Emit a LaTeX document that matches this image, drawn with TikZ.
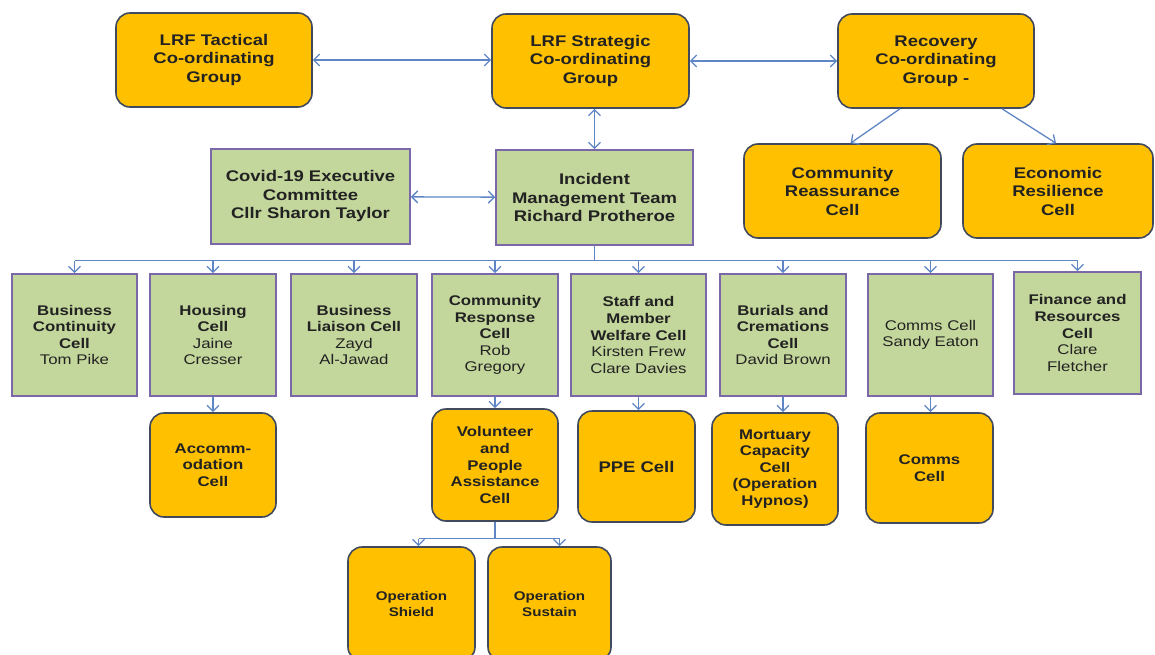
\documentclass[tikz,border=0pt]{standalone}
\usepackage{fontspec}
\setmainfont[FakeStretch=1.2]{Liberation Sans}
\usetikzlibrary{arrows.meta,calc}

\definecolor{gold}{HTML}{FFC000}
\definecolor{goldline}{HTML}{404A5C}
\definecolor{sage}{HTML}{C3D69B}
\definecolor{sageline}{HTML}{7B68A8}
\definecolor{linkblue}{HTML}{5E86C4}
\definecolor{ink}{HTML}{222222}

\begin{document}
\begin{tikzpicture}[x=1pt, y=-1pt,
  size/.style 2 args={minimum width=#1pt, minimum height=#2pt, inner sep=0pt},
  grp/.style={draw=goldline, fill=gold, line width=1.6pt, rounded corners=14pt,
    align=center, text=ink, font=\fontsize{15.4}{18.5}\selectfont\bfseries},
  subgrp/.style={grp, font=\fontsize{14}{16.6}\selectfont\bfseries},
  cell/.style={draw=sageline, fill=sage, line width=1.6pt, align=center,
    text=ink, font=\fontsize{14}{16.6}\selectfont},
  link/.style={draw=linkblue, line width=1.3pt},
  tip/.style={-{Straight Barb[length=6pt,width=12pt]}},
  both/.style={{Straight Barb[length=6pt,width=12pt]}-{Straight Barb[length=6pt,width=12pt]}}]
  \useasboundingbox (0,0) rectangle (1155,655);

  % top groups
  \node[grp, size={196}{94}] (tact) at (214,60) {LRF Tactical\\Co-ordinating\\Group};
  \node[grp, size={197}{94}] (strat) at (590.5,61) {LRF Strategic\\Co-ordinating\\Group};
  \node[grp, size={196}{94}] (recov) at (936,61) {Recovery\\Co-ordinating\\Group -};

  % second row
  \node[cell, size={199}{95}, font=\fontsize{15.4}{18.5}\selectfont\bfseries] (covid) at (310.5,196.5)
    {Covid-19 Executive\\Committee\\Cllr Sharon Taylor};
  \node[cell, size={197}{95}, font=\fontsize{15.4}{18.5}\selectfont\bfseries] (imt) at (594.5,197.5)
    {Incident\\Management Team\\Richard Protheroe};
  \node[grp, size={197}{94}] (reass) at (842.5,191) {Community\\Reassurance\\Cell};
  \node[grp, size={190}{94}] (econ) at (1058,191) {Economic\\Resilience\\Cell};

  % cells
  \node[cell, size={125}{122}] (bc) at (74.5,335)
    {\textbf{Business}\\\textbf{Continuity}\\\textbf{Cell}\\Tom Pike};
  \node[cell, size={126}{122}] (hous) at (213,335)
    {\textbf{Housing}\\\textbf{Cell}\\Jaine\\Cresser};
  \node[cell, size={126}{122}] (bl) at (354,335)
    {\textbf{Business}\\\textbf{Liaison Cell}\\Zayd\\Al-Jawad};
  \node[cell, size={126}{122}] (cr) at (495,335)
    {\textbf{Community}\\\textbf{Response}\\\textbf{Cell}\\Rob\\Gregory};
  \node[cell, size={135}{122}] (staff) at (638.5,335)
    {\textbf{Staff and}\\\textbf{Member}\\\textbf{Welfare Cell}\\Kirsten Frew\\Clare Davies};
  \node[cell, size={126}{122}] (bur) at (783,335)
    {\textbf{Burials and}\\\textbf{Cremations}\\\textbf{Cell}\\David Brown};
  \node[cell, size={125}{122}] (comm) at (930.5,335) {Comms Cell\\Sandy Eaton};
  \node[cell, size={127}{122}] (fin) at (1077.5,333)
    {\textbf{Finance and}\\\textbf{Resources}\\\textbf{Cell}\\Clare\\Fletcher};

  % sub cells
  \node[subgrp, size={126}{104}] (accom) at (213,465) {Accomm-\\odation\\Cell};
  \node[subgrp, size={126}{112}] (vol) at (495,465) {Volunteer\\and\\People\\Assistance\\Cell};
  \node[subgrp, size={117}{111}, font=\fontsize{15.4}{18.5}\selectfont\bfseries] (ppe) at (636.5,466.5) {PPE Cell};
  \node[subgrp, size={126}{112}] (mort) at (775,469) {Mortuary\\Capacity\\Cell\\(Operation\\Hypnos)};
  \node[subgrp, size={127}{110}] (comms) at (929.5,468) {Comms\\Cell};
  \node[subgrp, size={127}{114}, font=\fontsize{12.6}{15.5}\selectfont\bfseries] (shield) at (411.5,604) {Operation\\Shield};
  \node[subgrp, size={123}{114}, font=\fontsize{12.6}{15.5}\selectfont\bfseries] (sustain) at (549.5,604) {Operation\\Sustain};

  % links between groups
  \draw[link, both] (tact) -- (tact -| strat.west);
  \draw[link, both] (strat) -- (strat -| recov.west);
  \draw[link, both] (imt.north |- strat.south) -- (imt.north);
  \draw[link, both] (covid) -- (imt);
  \draw[link, tip] ($(recov.south)+(-36,0)$) -- ($(reass.north)+(8,0)$);
  \draw[link, tip] ($(recov.south)+(66,0)$) -- ($(econ.north)+(-2,0)$);

  % bus to cells
  \coordinate (bus) at ($(imt.south)+(0,15)$);
  \draw[link] (imt.south) -- (bus);
  \draw[link] (bus -| bc.north) -- (bus -| fin.north);
  \foreach \c in {bc,hous,bl,cr,staff,bur,comm,fin}
    \draw[link, tip] (bus -| \c.north) -- (\c.north);

  % cells to sub cells
  \draw[link, tip] (hous) -- (accom);
  \draw[link, tip] (cr) -- (vol);
  \draw[link, tip] (staff.south) -- (staff.south |- ppe.north);
  \draw[link, tip] (bur.south) -- (bur.south |- mort.north);
  \draw[link, tip] (comm.south) -- (comm.south |- comms.north);

  % volunteer split
  \coordinate (vbus) at ($(vol.south)+(0,17)$);
  \draw[link] (vol.south) -- (vbus);
  \draw[link] ($(vbus -| shield.north)+(7,0)$) -- ($(vbus -| sustain.north)+(10,0)$);
  \draw[link, tip] ($(vbus -| shield.north)+(7,0)$) -- ($(shield.north)+(7,0)$);
  \draw[link, tip] ($(vbus -| sustain.north)+(10,0)$) -- ($(sustain.north)+(10,0)$);
\end{tikzpicture}
\end{document}
